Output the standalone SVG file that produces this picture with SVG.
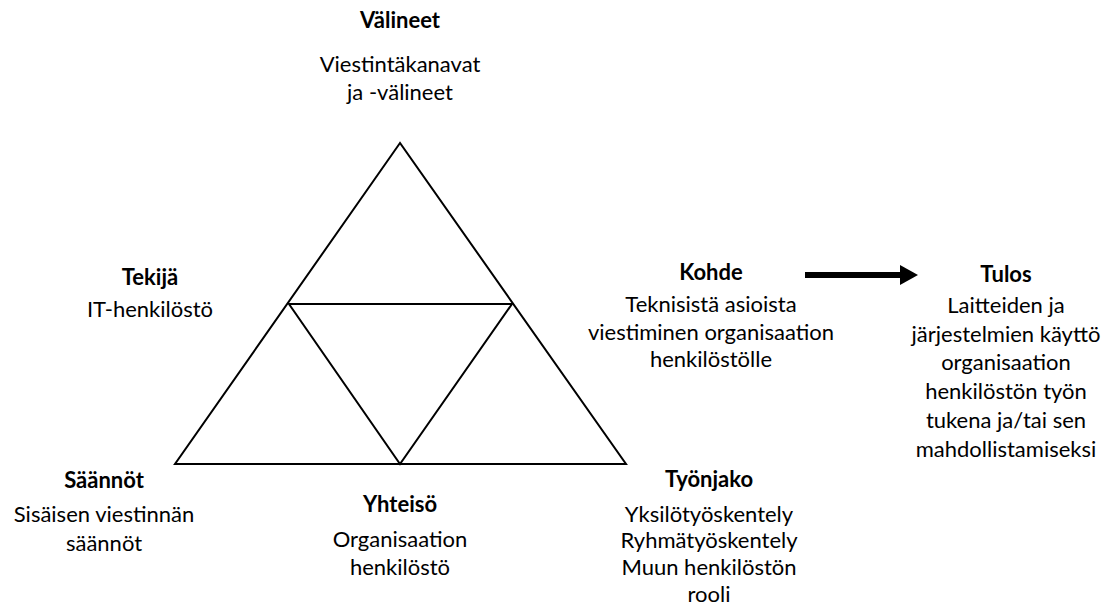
<svg xmlns="http://www.w3.org/2000/svg" width="1117" height="614" viewBox="0 0 1117 614">
<style>
text{font-family:Lato,"Liberation Sans",sans-serif;font-size:22px;fill:#000;text-anchor:middle}
.t{font-weight:bold}
.ln{fill:none;stroke:#000;stroke-width:2;stroke-linejoin:miter}
</style>
<rect width="1117" height="614" fill="#fff"/>
<g id="triangle">
<polygon class="ln" points="400,143 175,464 626,464"/>
<polygon class="ln" points="289,304 512,304 400,464"/>
</g>
<g id="connectors">
<line x1="805" y1="275" x2="901" y2="275" stroke="#000" stroke-width="6"/>
<polygon points="900,265 918,275 900,285" fill="#000"/>
</g>
<g id="valineet">
<text x="400" y="28" class="t">Välineet</text>
<text x="400" y="72">Viestintäkanavat</text>
<text x="400" y="100">ja -välineet</text>
</g>
<g id="tekija">
<text x="150" y="285" class="t">Tekijä</text>
<text x="150" y="317">IT-henkilöstö</text>
</g>
<g id="kohde">
<text x="711" y="280" class="t">Kohde</text>
<text x="711" y="312">Teknisistä asioista</text>
<text x="711" y="340">viestiminen organisaation</text>
<text x="711" y="367">henkilöstölle</text>
</g>
<g id="tulos">
<text x="1006" y="282" class="t">Tulos</text>
<text x="1006" y="313">Laitteiden ja</text>
<text x="1006" y="342">järjestelmien käyttö</text>
<text x="1006" y="370">organisaation</text>
<text x="1006" y="399">henkilöstön työn</text>
<text x="1006" y="428">tukena ja/tai sen</text>
<text x="1006" y="457">mahdollistamiseksi</text>
</g>
<g id="saannot">
<text x="104" y="488" class="t">Säännöt</text>
<text x="104" y="522">Sisäisen viestinnän</text>
<text x="104" y="551">säännöt</text>
</g>
<g id="yhteiso">
<text x="400" y="512" class="t">Yhteisö</text>
<text x="400" y="547">Organisaation</text>
<text x="400" y="575">henkilöstö</text>
</g>
<g id="tyonjako">
<text x="709" y="487" class="t">Työnjako</text>
<text x="709" y="522">Yksilötyöskentely</text>
<text x="709" y="548">Ryhmätyöskentely</text>
<text x="709" y="575">Muun henkilöstön</text>
<text x="709" y="602">rooli</text>
</g>
</svg>
